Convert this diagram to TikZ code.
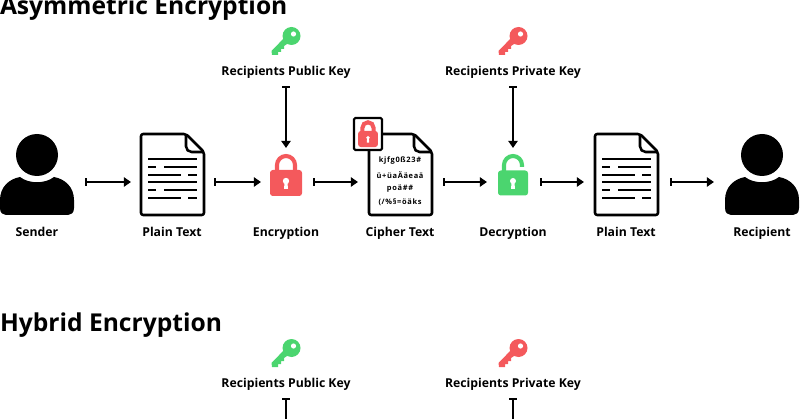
\documentclass[tikz,border=0pt]{standalone}
\usepackage{fontspec}
\setmainfont{Open Sans}
\newfontfamily\cipherfont[LetterSpace=9]{Open Sans}
\usetikzlibrary{arrows.meta}
\definecolor{lockRed}{HTML}{F4595C}
\definecolor{lockGreen}{HTML}{4BD56F}
\tikzset{
  personpic/.pic={
    \fill (0,-27) circle (21);
    \fill (-37,26) -- (-37,18) .. controls (-37,5) and (-28,-3) .. (-17,-5)
      .. controls (-8,2) and (8,2) .. (17,-5)
      .. controls (28,-3) and (37,5) .. (37,18) -- (37,26)
      .. controls (37,31) and (34,33) .. (31,33) -- (-31,33)
      .. controls (-34,33) and (-37,31) .. (-37,26) -- cycle;
  },
  docpic/.pic={
    \draw[line width=1.8pt,line join=round,rounded corners=1.5pt] (0,0) -- (45,0) -- (63,18) -- (63,81) -- (0,81) -- cycle;
    \draw[line width=1.8pt,rounded corners=4pt] (45,0) -- (45,18) -- (63,18);
  },
  doclines/.pic={
    \foreach \yy in {25,48}
      \draw[line width=1.6pt] (7,\yy) -- (56,\yy);
    \foreach \yy in {33,56} {
      \draw[line width=1.6pt] (7,\yy) -- (15,\yy);
      \draw[line width=1.6pt] (23,\yy) -- (56,\yy);
    }
    \foreach \yy in {41,64} {
      \draw[line width=1.6pt] (7,\yy) -- (40,\yy);
      \draw[line width=1.6pt] (47,\yy) -- (56,\yy);
    }
  },
  lockred/.pic={
    \draw[lockRed,line width=2.9pt] (-9,-11) -- (-9,-18) arc (180:360:9) -- (9,-11);
    \fill[lockRed,rounded corners=2pt] (-16,-13) rectangle (16,13);
    \fill[white] (0,-2) circle (3.2);
    \fill[white] (-1.5,0) -- (1.5,0) -- (2,6) -- (-2,6) -- cycle;
  },
  lockgreen/.pic={
    \draw[lockGreen,line width=2.9pt] (-9,-11) -- (-9,-18) arc (180:360:9) -- (9,-16);
    \fill[lockGreen,rounded corners=2pt] (-15,-12.5) rectangle (15,12.5);
    \fill[white] (0,-2) circle (3);
    \fill[white] (-1.5,0) -- (1.5,0) -- (2,6) -- (-2,6) -- cycle;
  },
  keypic/.pic={
    \fill (5.5,-6) circle (9);
    \fill (-14.5,9) -- (-14,13) -- (-8,13) -- (-8,10) -- (-5,10) -- (-5,7) -- (-2,7)
      -- (-2,4) -- (4,0) -- (0,-6) -- cycle;
    \fill[white] (7.5,-8) circle (2.6);
  }
}
\begin{document}
\begin{tikzpicture}[
  x=0.025cm, y=-0.025cm,
  every node/.style={inner sep=0pt, outer sep=0pt},
  heading/.style={font=\fontsize{17.5}{20}\selectfont\bfseries, anchor=west},
  lbl/.style={font=\fontsize{8.7}{10}\selectfont\bfseries, text height=7.5pt, text depth=1pt},
  keylbl/.style={lbl, minimum height=0.75cm},
  slot/.style={minimum height=1.7cm, minimum width=#1*0.05cm},
  arr/.style={{Bar[width=5.5pt,length=1.4pt]}-{Triangle[length=5pt,width=6.5pt]}, line width=1.5pt},
  stub/.style={{Bar[width=5.5pt,length=1.4pt]}-, line width=1.5pt},
  ciph/.style={font=\cipherfont\fontsize{5.3}{6}\selectfont\bfseries}
]
\useasboundingbox (0,0) rectangle (800,419);

\node[heading] (titleA) at (0,8) {Asymmetric Encryption};
\node[heading] (titleB) at (0,325) {Hybrid Encryption};

% slots on the flow line
\node[slot=48] (sender) at (37,182) {};
\node[slot=41.5] (plainA) at (172.5,182) {};
\node[slot=26] (enc) at (287,182) {};
\node[slot=42.5] (cipher) at (400.5,182) {};
\node[slot=26.5] (dec) at (513.5,182) {};
\node[slot=43] (plainB) at (627,182) {};
\node[slot=48] (recipient) at (762,182) {};

\pic at (37,182) {personpic};
\pic at (762,182) {personpic};
\pic at (141,134) {docpic};
\pic at (141,134) {doclines};
\pic at (595,134) {docpic};
\pic at (595,134) {doclines};
\pic at (369,134) {docpic};
\pic at (286,183) {lockred};
\pic at (513,183) {lockgreen};
\pic[lockGreen] at (286,42) {keypic};
\pic[lockRed] at (513,42) {keypic};
\pic[lockGreen] at (286,354) {keypic};
\pic[lockRed] at (513,354) {keypic};

% badge on the cipher sheet
\node[draw, line width=1.5pt, fill=white, rounded corners=1pt, minimum width=0.7cm, minimum height=0.8cm] (badge) at (368,134) {};
\pic[scale=0.62] at (368,139) {lockred};

\node[ciph] (cipherA) at (400,161) {kjfg0ß23\#};
\node[ciph] (cipherB) at (400,175) {ü+üaÄäeaä};
\node[ciph] (cipherC) at (400,189) {poä\#\#};
\node[ciph] (cipherD) at (400,202) {(/\%§=öäks};

\node[lbl] (senderLbl) at (37,232) {Sender};
\node[lbl] (plainALbl) at (172,232) {Plain Text};
\node[lbl] (encLbl) at (286,232) {Encryption};
\node[lbl] (cipherLbl) at (400,232) {Cipher Text};
\node[lbl] (decLbl) at (513,232) {Decryption};
\node[lbl] (plainBLbl) at (626,232) {Plain Text};
\node[lbl] (recipientLbl) at (762,232) {Recipient};

\node[keylbl] (pubA) at (286,71) {Recipients Public Key};
\node[keylbl] (privA) at (513,71) {Recipients Private Key};
\node[keylbl] (pubB) at (286,383) {Recipients Public Key};
\node[keylbl] (privB) at (513,383) {Recipients Private Key};
\coordinate (pubEnd) at (286,425);
\coordinate (privEnd) at (513,425);

\draw[arr] (sender.east) -- (plainA.west);
\draw[arr] (plainA.east) -- (enc.west);
\draw[arr] (enc.east) -- (cipher.west);
\draw[arr] (cipher.east) -- (dec.west);
\draw[arr] (dec.east) -- (plainB.west);
\draw[arr] (plainB.east) -- (recipient.west);
\draw[arr] (pubA.south) -- (pubA.south |- enc.north);
\draw[arr] (privA.south) -- (privA.south |- dec.north);
\draw[stub] (pubB.south) -- (pubEnd);
\draw[stub] (privB.south) -- (privEnd);
\end{tikzpicture}
\end{document}
